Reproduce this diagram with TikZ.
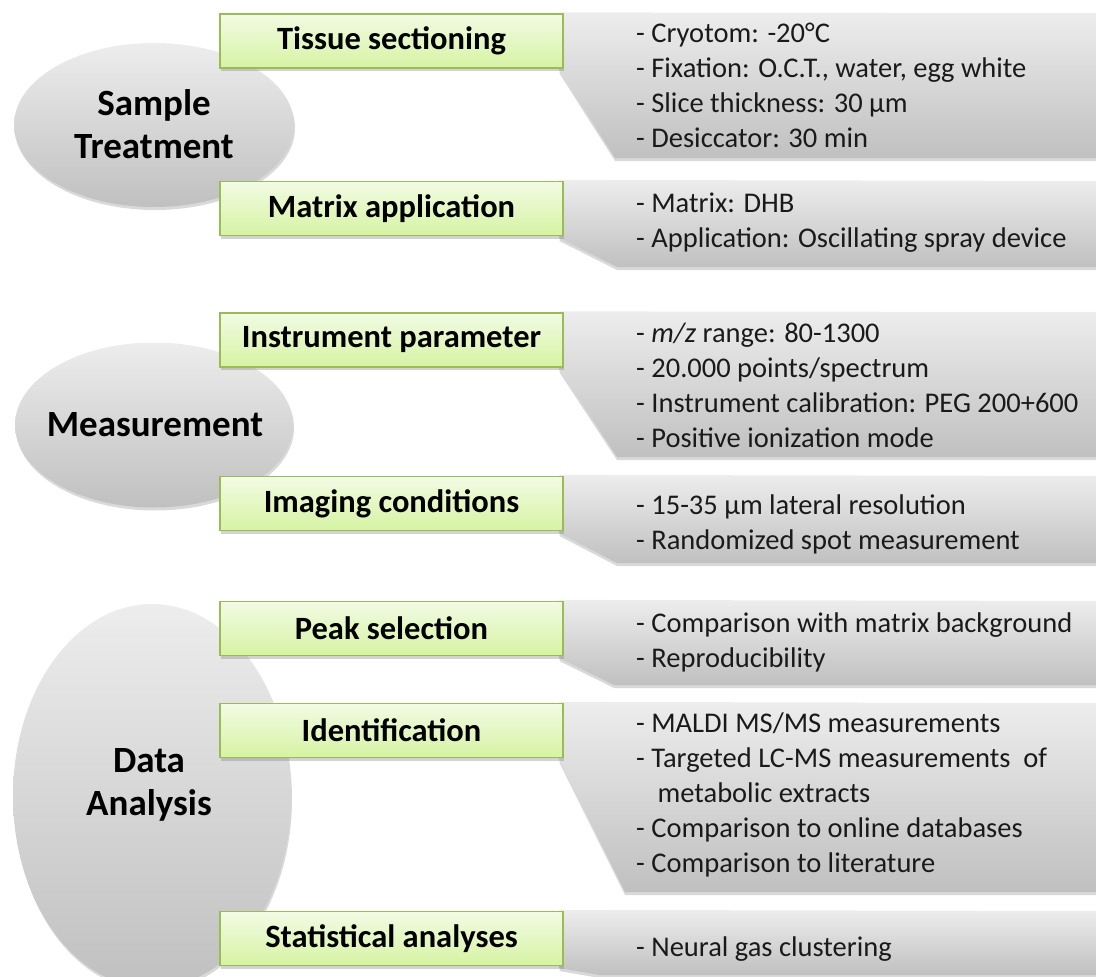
\documentclass[tikz,border=0pt]{standalone}
\usepackage{fontspec}
\setmainfont{Carlito}
\usetikzlibrary{shapes.geometric,shadows,calc}
\definecolor{gtop}{HTML}{F2FBE4}
\definecolor{gbot}{HTML}{D6F3A3}
\definecolor{gline}{HTML}{9BBB59}
\definecolor{ptop}{HTML}{EDEDED}
\definecolor{pbot}{HTML}{C0C0C0}
\definecolor{txt}{HTML}{1A1A1A}
\pgfdeclarelayer{bg}
\pgfsetlayers{bg,main}
\begin{document}
\begin{tikzpicture}[x=1pt,y=-1pt,
  gbox/.style={draw=gline, line width=1.2pt, top color=gtop, bottom color=gbot,
    minimum width=343pt, minimum height=54pt, inner sep=0pt,
    font=\fontsize{32.5}{38}\selectfont\bfseries, text=black,
    drop shadow={shadow xshift=1pt, shadow yshift=-3pt, opacity=0.35}},
  oval/.style={ellipse, top color=ptop, bottom color=pbot, inner sep=0pt,
    drop shadow={shadow xshift=1pt, shadow yshift=-3pt, opacity=0.3}},
  ovaltext/.style={font=\fontsize{37}{43}\selectfont\bfseries, align=center, text=black, inner sep=0pt},
  panel/.style={top color=ptop, bottom color=pbot,
    drop shadow={shadow xshift=0pt, shadow yshift=-3pt, opacity=0.3}},
  ptext/.style={anchor=north west, align=left, inner sep=0pt, text=txt,
    font=\fontsize{28.5}{35}\selectfont}
]
\useasboundingbox (0,0) rectangle (1096,977);

% green boxes
\node[gbox] (ts) at (391.5,41) {Tissue sectioning};
\node[gbox] (ma) at (391.5,208.5) {Matrix application};
\node[gbox] (ip) at (391.5,340) {Instrument parameter};
\node[gbox] (ic) at (391.5,503.5) {Imaging conditions};
\node[gbox] (ps) at (391.5,628.5) {Peak selection};
\node[gbox] (id) at (391.5,730.5) {Identification};
\node[gbox] (sa) at (391.5,938.5) {Statistical analyses};

\begin{pgfonlayer}{bg}
  % ellipses
  \node[oval, minimum width=280pt, minimum height=164pt] (st) at (154,125) {};
  \node[ovaltext] (stt) at (154,124) {Sample\\Treatment};
  \node[oval, minimum width=278pt, minimum height=165pt] (me) at (154,425) {};
  \node[ovaltext] (met) at (155,425) {Measurement};
  \node[oval, minimum width=278pt, minimum height=384pt] (da) at (152,796) {};
  \node[ovaltext] (dat) at (149,785) {Data\\Analysis};

  % grey panels
  \path[panel] ($(ts.north east)+(-4,-1)$) -- (1110,13) -- (1110,158) -- (615,158) -- ($(ts.south east)+(-4,2)$) -- cycle;
  \path[panel] ($(ma.north east)+(-4,-1)$) -- (1110,181) -- (1110,267) -- (617,267) -- ($(ma.south east)+(-4,2)$) -- cycle;
  \path[panel] ($(ip.north east)+(-4,-1)$) -- (1110,312) -- (1110,457) -- (617,457) -- ($(ip.south east)+(-4,2)$) -- cycle;
  \path[panel] ($(ic.north east)+(-4,-1)$) -- (1110,476) -- (1110,563) -- (617,563) -- ($(ic.south east)+(-4,2)$) -- cycle;
  \path[panel] ($(ps.north east)+(-4,-1)$) -- (1110,601) -- (1110,685) -- (614,685) -- ($(ps.south east)+(-4,2)$) -- cycle;
  \path[panel] ($(id.north east)+(-4,-1)$) -- (1110,703) -- (1110,892) -- (625,892) -- ($(id.south east)+(-4,2)$) -- cycle;
  \path[panel] ($(sa.north east)+(-4,-1)$) -- (1110,911) -- (1110,975) -- (600,975) -- ($(sa.south east)+(-4,2)$) -- cycle;
\end{pgfonlayer}

% panel texts
\node[ptext] (t1) at (636,17.5) {\strut- Cryotom: -20°C\\- Fixation: O.C.T., water, egg white\\- Slice thickness: 30 µm\\- Desiccator: 30 min};
\node[ptext] (t2) at (636,187.5) {\strut- Matrix: DHB\\- Application: Oscillating spray device};
\node[ptext] (t3) at (636,317.5) {\strut- \textit{m/z} range: 80-1300\\- 20.000 points/spectrum\\- Instrument calibration: PEG 200+600\\- Positive ionization mode};
\node[ptext] (t4) at (636,489.5) {\strut- 15-35 µm lateral resolution\\- Randomized spot measurement};
\node[ptext] (t5) at (636,607.5) {\strut- Comparison with matrix background\\- Reproducibility};
\node[ptext] (t6) at (636,707.5) {\strut- MALDI MS/MS measurements\\- Targeted LC-MS measurements~ of\\\hspace*{0.75em}metabolic extracts\\- Comparison to online databases\\- Comparison to literature};
\node[ptext] (t7) at (636,931.5) {\strut- Neural gas clustering};
\end{tikzpicture}
\end{document}
